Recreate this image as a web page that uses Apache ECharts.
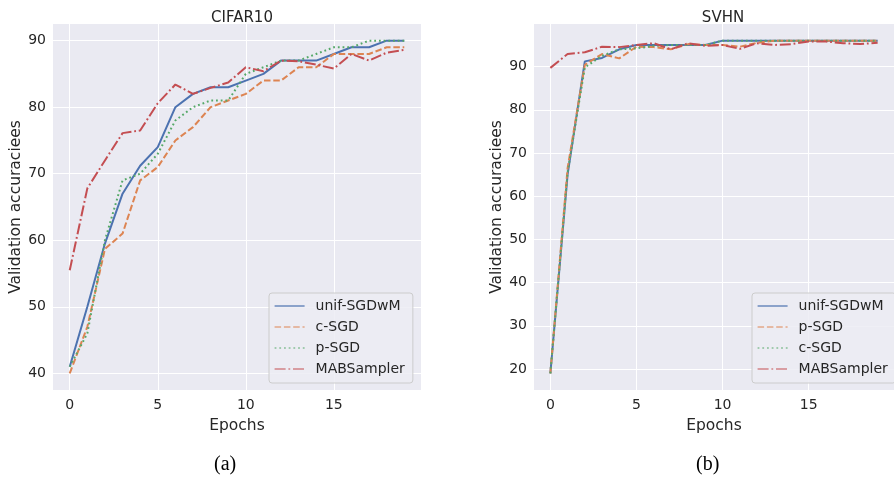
<!DOCTYPE html>
<html><head><meta charset="utf-8">
<script src="https://cdn.jsdelivr.net/npm/echarts@6/dist/echarts.min.js"></script>
<style>html,body{margin:0;padding:0;background:#fff}#c{width:894px;height:482px}</style>
</head><body><div id="c"></div>
<script>
const epochs = [0,1,2,3,4,5,6,7,8,9,10,11,12,13,14,15,16,17,18,19];

const cifarUnif = [41, 50, 59.5, 67, 71.2, 74, 80, 82, 83, 83, 84, 85, 87, 87, 87, 88, 89, 89, 90, 90];
const cifarC    = [40, 47, 58.7, 61, 69, 71, 75, 77, 80, 81, 82, 84, 84, 86, 86, 88, 88, 88, 89, 89];
const cifarP    = [41, 46, 60, 69, 70, 73, 78, 80, 81, 81, 85, 86, 87, 87, 88, 89, 89, 90, 90, 90];
const cifarMab  = [55.5, 67.8, 72, 76.1, 76.5, 80.6, 83.4, 82, 82.9, 83.7, 86, 85.4, 87, 86.9, 86.4, 85.8, 88, 87, 88.2, 88.6];

const svhnUnif = [19, 65, 91.2, 92, 94, 95, 95, 95, 95, 95, 96, 96, 96, 96, 96, 96, 96, 96, 96, 96];
const svhnP    = [19, 66.5, 90.4, 92.9, 91.9, 94.6, 94.5, 94, 95.2, 95, 95, 94.6, 95.5, 96, 96, 96, 96, 96, 96, 96];
const svhnC    = [19, 65.5, 89.8, 92.5, 94, 94.2, 94.8, 95, 95, 95, 96, 96, 96, 96, 96, 96, 96, 96, 96, 96];
const svhnMab  = [89.7, 92.9, 93.3, 94.6, 94.5, 95, 95.4, 94, 95.4, 94.8, 95, 94.1, 95.4, 95, 95.2, 95.8, 95.8, 95.4, 95.2, 95.5];

const xTicks = [0, 5, 10, 15];
const cifarYTicks = [40, 50, 60, 70, 80, 90];
const svhnYTicks = [20, 30, 40, 50, 60, 70, 80, 90];

const titles = ['CIFAR10', 'SVHN'];
const captions = ['(a)', '(b)'];
const xName = 'Epochs';
const yName = 'Validation accuraciees';

const C_BLUE = '#4C72B0', C_ORANGE = '#DD8452', C_GREEN = '#55A868', C_RED = '#C44E52';
const TXT = '#262626';
const FONT = 'DejaVu Sans';
const LW = 2;
const DASH = [6.5, 2.8], DOT = [1.8, 2.9], DASHDOT = [11, 2.8, 1.8, 2.8];

function pts(arr) { return epochs.map((e, i) => [e, arr[i]]); }
function line(name, arr, color, type, idx) {
  return {
    name, type: 'line', xAxisIndex: idx, yAxisIndex: idx,
    data: pts(arr), symbol: 'none', showSymbol: false,
    lineStyle: { color, width: LW, type, cap: 'butt' },
    itemStyle: { color }, z: 3
  };
}
function xAxis(idx) {
  return {
    type: 'value', gridIndex: idx, min: -0.95, max: 19.95,
    axisLine: { show: false }, axisTick: { show: false, customValues: xTicks },
    axisLabel: { customValues: xTicks, color: TXT, fontSize: 14, fontFamily: FONT, margin: 8 },
    splitLine: { show: true, lineStyle: { color: '#ffffff', width: 1 } },
    name: xName, nameLocation: 'middle', nameGap: 28,
    nameTextStyle: { color: TXT, fontSize: 15.5, fontFamily: FONT }
  };
}
function yAxis(idx, min, max, ticks) {
  return {
    type: 'value', gridIndex: idx, min, max,
    axisLine: { show: false }, axisTick: { show: false, customValues: ticks },
    axisLabel: { customValues: ticks, color: TXT, fontSize: 14, fontFamily: FONT, margin: 7 },
    splitLine: { show: true, lineStyle: { color: '#ffffff', width: 1 } },
    name: yName, nameLocation: 'middle', nameGap: 27,
    nameTextStyle: { color: TXT, fontSize: 15.5, fontFamily: FONT }
  };
}
function legend(left, names) {
  return {
    orient: 'vertical', left, top: 293,
    data: names,
    formatter: n => n.replace(' (b)', ''),
    itemWidth: 30, itemHeight: 14, itemGap: 7,
    padding: [6, 8, 7, 5],
    backgroundColor: 'rgba(236,236,243,0.85)', borderColor: '#cccccc', borderWidth: 1, borderRadius: 3,
    lineStyle: { width: 1.2 },
    itemStyle: { opacity: 0 },
    textStyle: { color: TXT, fontSize: 14, fontFamily: FONT, padding: [0, 0, 0, 6] },
    selectedMode: false
  };
}

const chart = echarts.init(document.getElementById('c'), null, { renderer: 'canvas' });
chart.setOption({
  backgroundColor: '#ffffff',
  animation: false,
  title: [
    { text: titles[0], left: 237, top: 6, textAlign: 'center', textStyle: { color: TXT, fontSize: 15, fontWeight: 'normal', fontFamily: FONT } },
    { text: titles[1], left: 718, top: 6, textAlign: 'center', textStyle: { color: TXT, fontSize: 15, fontWeight: 'normal', fontFamily: FONT } }
  ],
  grid: [
    { left: 53, top: 24, width: 368, height: 366, show: true, backgroundColor: '#EAEAF2', borderWidth: 0 },
    { left: 534, top: 24, width: 369, height: 366, show: true, backgroundColor: '#EAEAF2', borderWidth: 0 }
  ],
  xAxis: [xAxis(0), xAxis(1)],
  yAxis: [yAxis(0, 37.5, 92.5, cifarYTicks), yAxis(1, 15.15, 99.85, svhnYTicks)],
  legend: [
    legend(269, ['unif-SGDwM', 'c-SGD', 'p-SGD', 'MABSampler']),
    legend(752, ['unif-SGDwM (b)', 'p-SGD (b)', 'c-SGD (b)', 'MABSampler (b)'])
  ],
  series: [
    line('unif-SGDwM', cifarUnif, C_BLUE, 'solid', 0),
    line('c-SGD', cifarC, C_ORANGE, DASH, 0),
    line('p-SGD', cifarP, C_GREEN, DOT, 0),
    line('MABSampler', cifarMab, C_RED, DASHDOT, 0),
    line('unif-SGDwM (b)', svhnUnif, C_BLUE, 'solid', 1),
    line('p-SGD (b)', svhnP, C_ORANGE, DASH, 1),
    line('c-SGD (b)', svhnC, C_GREEN, DOT, 1),
    line('MABSampler (b)', svhnMab, C_RED, DASHDOT, 1)
  ],
  graphic: [
    { type: 'text', left: 214, top: 455, style: { text: captions[0], fill: '#000', font: '20px "Liberation Serif"' } },
    { type: 'text', left: 696, top: 455, style: { text: captions[1], fill: '#000', font: '20px "Liberation Serif"' } }
  ]
});
</script>
</body></html>
